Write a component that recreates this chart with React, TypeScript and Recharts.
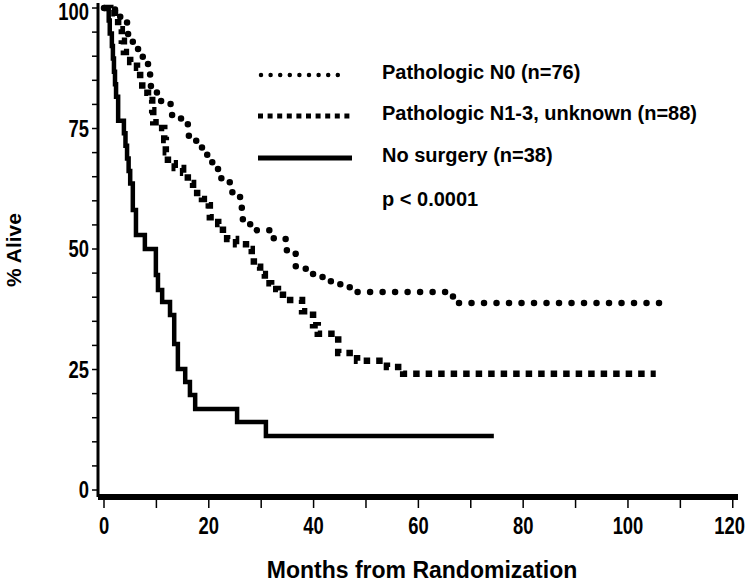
import { CartesianGrid, Legend, Line, LineChart, XAxis, YAxis } from 'recharts'

// survival curves (months, % alive), step after each point
const n0Months = [0, 2.1, 3.1, 4.4, 4.6, 5.5, 6.5, 7.4, 8.4, 8.8, 10.1, 10.9, 13.0, 14.7, 16.0, 16.2, 17.6, 18.7, 19.7, 20.8, 21.8, 24.0, 25.4, 26.3, 26.5, 27.9, 28.8, 32.4, 34.9, 36.6, 39.9, 43.3, 46.9, 66.6, 107.6]
const n0Pct = [100, 98.7, 97.9, 96.3, 93.8, 92.1, 90.7, 88.6, 86.5, 83.8, 82.4, 80.1, 77.6, 76.6, 75.1, 72.6, 71.2, 69.7, 68.0, 66.6, 64.7, 61.8, 60.8, 58.5, 56.0, 54.8, 53.9, 52.1, 49.0, 45.9, 44.2, 42.7, 41.1, 38.8, 38.8]

const n13Months = [0, 1.2, 2.1, 2.7, 3.4, 3.8, 5.0, 6.3, 6.9, 7.3, 8.4, 9.2, 9.4, 11.1, 11.5, 11.8, 12.2, 13.5, 15.1, 16.0, 17.0, 18.7, 20.0, 20.2, 21.8, 22.7, 23.5, 25.2, 27.1, 28.2, 28.6, 29.8, 30.7, 31.9, 33.2, 34.9, 37.8, 39.9, 40.8, 44.7, 48.3, 54.0, 57.1, 105.3]
const n13Pct = [100, 98.9, 97.7, 95.6, 93.2, 90.9, 88.8, 87.6, 84.9, 82.4, 80.9, 78.8, 76.3, 75.1, 72.6, 70.1, 67.8, 66.8, 65.8, 63.7, 61.6, 60.4, 59.1, 56.6, 55.2, 53.3, 52.1, 51.0, 50.0, 48.5, 46.3, 44.8, 42.9, 41.7, 40.5, 39.4, 37.1, 34.2, 32.4, 28.4, 26.8, 25.5, 24.1, 24.1]

const noSurgMonths = [0, 0.9, 1.1, 1.5, 1.7, 1.9, 2.1, 2.3, 2.7, 3.8, 4.1, 4.4, 4.7, 5.0, 5.5, 6.1, 7.8, 9.9, 10.3, 11.1, 12.6, 13.4, 14.1, 15.5, 16.4, 17.4, 25.4, 30.9, 74.4]
const noSurgPct = [100, 97.4, 94.7, 92.1, 89.5, 86.8, 84.2, 81.6, 76.6, 74.0, 71.4, 68.8, 66.2, 63.6, 58.1, 52.9, 50.0, 44.6, 41.5, 39.0, 36.3, 30.3, 25.1, 22.4, 19.7, 16.8, 14.1, 11.2, 11.2]

const seriesNames = ['Pathologic N0 (n=76)', 'Pathologic N1-3, unknown (n=88)', 'No surgery (n=38)']
const pValue = 'p < 0.0001'

const xTicks = [0, 10, 20, 30, 40, 50, 60, 70, 80, 90, 100, 110, 120]
const yTicks = [0, 5, 10, 15, 20, 25, 30, 35, 40, 45, 50, 55, 60, 65, 70, 75, 80, 85, 90, 95, 100]

const toRows = (months: number[], pct: number[]) =>
    months.map((m, i) => ({ month: m, pct: pct[i] }))

const n0Data = toRows(n0Months, n0Pct)
const n13Data = toRows(n13Months, n13Pct)
const noSurgData = toRows(noSurgMonths, noSurgPct)

const SANS = "'Liberation Sans', Arial, sans-serif"
const TICK_SIZE = 23
const SQUEEZE = 0.8 // the reference digits are tall and narrow

// condensed bold tick label, squeezed horizontally around its anchor
function NarrowTick(props: any) {
    const { x, y, payload, axis } = props
    const value: number = payload.value
    const shown = axis === 'x' ? value % 20 === 0 : value % 25 === 0
    if (!shown) return null
    const label = String(value)
    let ax = x
    let ay = y
    if (axis === 'x') {
        const half = (label.length * 0.556 * TICK_SIZE * SQUEEZE) / 2
        if (ax + half > 745) ax = 745 - half
    } else if (ay < 12) {
        ay = 12 // keep the top label inside the picture
    }
    return (
        <text
            x={0}
            y={0}
            transform={`translate(${ax} ${ay}) scale(${SQUEEZE} 1)`}
            dy={axis === 'x' ? '0.71em' : '0.355em'}
            textAnchor={axis === 'x' ? 'middle' : 'end'}
            fontFamily={SANS}
            fontWeight={700}
            fontSize={TICK_SIZE}
            fill="#000"
        >
            {label}
        </text>
    )
}

function LegendBox() {
    return (
        <svg width={480} height={170} style={{ display: 'block' }}>
            <line x1={21} x2={107} y1={25} y2={25} stroke="#000" strokeWidth={4.5}
                strokeDasharray="0 9.6" strokeLinecap="round" />
            <line x1={18} x2={110} y1={66} y2={66} stroke="#000" strokeWidth={5}
                strokeDasharray="5 4.6" />
            <line x1={18} x2={112} y1={108} y2={108} stroke="#000" strokeWidth={5} />
            <g fontFamily={SANS} fontWeight={700} fontSize={20} fill="#000">
                <text x={142} y={29}>{seriesNames[0]}</text>
                <text x={142} y={70}>{seriesNames[1]}</text>
                <text x={142} y={112}>{seriesNames[2]}</text>
                <text x={142} y={156}>{pValue}</text>
            </g>
        </svg>
    )
}

export default function App() {
    return (
        <div style={{ position: 'absolute', left: 0, top: 0, width: 746, height: 583, background: '#fff' }}>
            <LineChart width={746} height={583} margin={{ top: 3, right: 8, left: 38, bottom: 0 }}>
                <CartesianGrid stroke="none" />
                <XAxis
                    type="number"
                    dataKey="month"
                    domain={[-1.145, 121]}
                    ticks={xTicks}
                    allowDataOverflow
                    height={86}
                    tickSize={11}
                    tickMargin={10}
                    axisLine={{ stroke: '#000', strokeWidth: 6 }}
                    tickLine={{ stroke: '#000', strokeWidth: 1.5 }}
                    tick={(p: any) => <NarrowTick {...p} axis="x" />}
                    label={{
                        value: 'Months from Randomization',
                        content: () => (
                            <text x={422} y={578} textAnchor="middle" fontFamily={SANS}
                                fontWeight={700} fontSize={23} fill="#000">
                                Months from Randomization
                            </text>
                        ),
                    }}
                />
                <YAxis
                    type="number"
                    dataKey="pct"
                    domain={[-1.45, 101.04]}
                    ticks={yTicks}
                    allowDataOverflow
                    width={60}
                    tickSize={6}
                    tickMargin={3}
                    axisLine={{ stroke: '#000', strokeWidth: 3 }}
                    tickLine={{ stroke: '#000', strokeWidth: 1.5 }}
                    tick={(p: any) => <NarrowTick {...p} axis="y" />}
                    label={{
                        value: '% Alive',
                        content: () => (
                            <text x={13} y={250} transform="rotate(-90 13 250)" textAnchor="middle"
                                dominantBaseline="central" fontFamily={SANS} fontWeight={700}
                                fontSize={21} fill="#000">
                                % Alive
                            </text>
                        ),
                    }}
                />
                <Legend
                    layout="vertical"
                    align="center"
                    verticalAlign="middle"
                    wrapperStyle={{ left: 240, top: 50, width: 480, height: 170 }}
                    content={() => <LegendBox />}
                />
                <Line
                    data={n0Data}
                    dataKey="pct"
                    name={seriesNames[0]}
                    type="stepAfter"
                    stroke="#000"
                    strokeWidth={6.5}
                    strokeDasharray="0 12.5"
                    strokeLinecap="round"
                    dot={false}
                    activeDot={false}
                    isAnimationActive={false}
                />
                <Line
                    data={n13Data}
                    dataKey="pct"
                    name={seriesNames[1]}
                    type="stepAfter"
                    stroke="#000"
                    strokeWidth={6.5}
                    strokeDasharray="6.5 6"
                    dot={false}
                    activeDot={false}
                    isAnimationActive={false}
                />
                <Line
                    data={noSurgData}
                    dataKey="pct"
                    name={seriesNames[2]}
                    type="stepAfter"
                    stroke="#000"
                    strokeWidth={4.5}
                    dot={false}
                    activeDot={false}
                    isAnimationActive={false}
                />
            </LineChart>
        </div>
    )
}
